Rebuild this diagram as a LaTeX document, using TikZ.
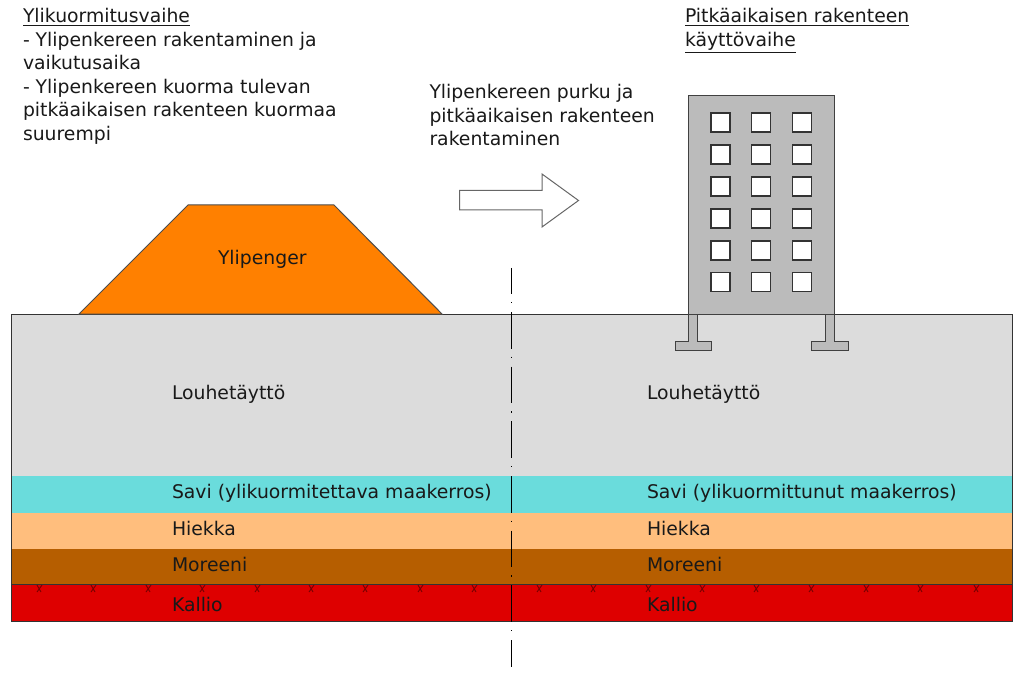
\documentclass[tikz,border=0pt]{standalone}
\usepackage{fontspec}
\setmainfont{DejaVu Sans}
\usepackage{tikz}
\usetikzlibrary{positioning}
\definecolor{louhe}{HTML}{DCDCDC}
\definecolor{savi}{HTML}{6ADCDC}
\definecolor{hiekka}{HTML}{FFBE7D}
\definecolor{moreeni}{HTML}{B65E00}
\definecolor{kallio}{HTML}{DE0000}
\definecolor{penger}{HTML}{FF8000}
\definecolor{talo}{HTML}{BBBBBB}

\begin{document}
\begin{tikzpicture}[
        x=0.75pt,
        y=-0.75pt,
        line width=0.75pt,
        txt/.style = {
            font=\fontsize{14.1}{17.6}\selectfont,
            text=black!90,
            inner sep = 0pt,
            outer sep = 0pt
        },
        layer/.style = {txt, anchor=base west},
        para/.style = {txt, anchor=north west, align=left},
        window/.style = {
            draw=black!80,
            line width=0.85pt,
            fill=white,
            minimum size = #1,
            inner sep = 0pt,
            outer sep = 0pt
        },
        window/.default = 14.25pt,
        rako/.pic = {
            \draw[black!45!kallio, line width=0.7pt] (-3,1) -- (1,8) (2,1) -- (-3,8);
        },
        node distance = {5mm}
        ]
        \useasboundingbox (0,0) rectangle (1023,673);
%
% ground layers
        \fill[louhe] (11,314) rectangle (1012,476);
        \fill[savi] (11,476) rectangle (1012,513);
        \fill[hiekka] (11,513) rectangle (1012,549);
        \fill[moreeni] (11,549) rectangle (1012,584);
        \fill[kallio] (11,584) rectangle (1012,621);
        \draw[black!80] (11,584) -- (1012,584);
        \draw[black!80] (11,314) rectangle (1012,621);
%
        \pic at (40,584) {rako};   \pic at (94,584) {rako};   \pic at (149,584) {rako};
        \pic at (203,584) {rako};  \pic at (258,584) {rako};  \pic at (312,584) {rako};
        \pic at (366,584) {rako};  \pic at (421,584) {rako};  \pic at (475,584) {rako};
        \pic at (540,584) {rako};  \pic at (594,584) {rako};  \pic at (649,584) {rako};
        \pic at (703,584) {rako};  \pic at (757,584) {rako};  \pic at (812,584) {rako};
        \pic at (867,584) {rako};  \pic at (921,584) {rako};  \pic at (977,584) {rako};
%
% embankment
        \draw[black!70, fill=penger] (79,314) -- (188,205) -- (334,205) -- (442,314) -- cycle;
        \node[layer] (penger) at (218,265) {Ylipenger};
%
% building
        \draw[black!75, fill=talo] (688,314) -- (688,341) -- (675,341) -- (675,350) -- (711,350)
                -- (711,341) -- (697,341) -- (697,314);
        \draw[black!75, fill=talo] (825,314) -- (825,341) -- (811,341) -- (811,350) -- (848,350)
                -- (848,341) -- (834,341) -- (834,314);
        \draw[black!75, fill=talo] (688,96) rectangle (834,314);
%
        \node[window] (w1) at (720.5,122.5) {};
        \node[window] (w2) at (761,122.5) {};
        \node[window] (w3) at (802,122.5) {};
        \node[window] (w4) at (720.5,154.5) {};
        \node[window] (w5) at (761,154.5) {};
        \node[window] (w6) at (802,154.5) {};
        \node[window] (w7) at (720.5,186.5) {};
        \node[window] (w8) at (761,186.5) {};
        \node[window] (w9) at (802,186.5) {};
        \node[window] (w10) at (720.5,218.5) {};
        \node[window] (w11) at (761,218.5) {};
        \node[window] (w12) at (802,218.5) {};
        \node[window] (w13) at (720.5,250.5) {};
        \node[window] (w14) at (761,250.5) {};
        \node[window] (w15) at (802,250.5) {};
        \node[window] (w16) at (720.5,282) {};
        \node[window] (w17) at (761,282) {};
        \node[window] (w18) at (802,282) {};
%
% arrow and centre line
        \draw[black!60, fill=white] (459.5,190.5) -- (542,190.5) -- (542,174) -- (578.5,200.5)
                -- (542,227) -- (542,210) -- (459.5,210) -- cycle;
        \draw[black, dash pattern=on 27.5pt off 6pt on 1.1pt off 6.4pt, dash phase=8pt]
                (511.5,268) -- (511.5,667);
%
% texts
        \node[para] (vaihe1) at (23,8.5) {\underline{Ylikuormitusvaihe}\\
                - Ylipenkereen rakentaminen ja\\
                vaikutusaika\\
                - Ylipenkereen kuorma tulevan\\
                pitkäaikaisen rakenteen kuormaa\\
                suurempi};
        \node[para] (purku) at (429.5,84.5) {Ylipenkereen purku ja\\
                pitkäaikaisen rakenteen\\
                rakentaminen};
        \node[para] (vaihe2) at (685,8.5) {\underline{Pitkäaikaisen rakenteen}\\
                \underline{käyttövaihe}};
%
        \node[layer] (louhe1) at (172,399) {Louhetäyttö};
        \node[layer] (savi1) at (172,498) {Savi (ylikuormitettava maakerros)};
        \node[layer] (hiekka1) at (172,535) {Hiekka};
        \node[layer] (moreeni1) at (172,571) {Moreeni};
        \node[layer] (kallio1) at (172,611) {Kallio};
%
        \node[layer] (louhe2) at (647,399) {Louhetäyttö};
        \node[layer] (savi2) at (647,498) {Savi (ylikuormittunut maakerros)};
        \node[layer] (hiekka2) at (647,535) {Hiekka};
        \node[layer] (moreeni2) at (647,571) {Moreeni};
        \node[layer] (kallio2) at (647,611) {Kallio};
%
    \end{tikzpicture}
\end{document}
